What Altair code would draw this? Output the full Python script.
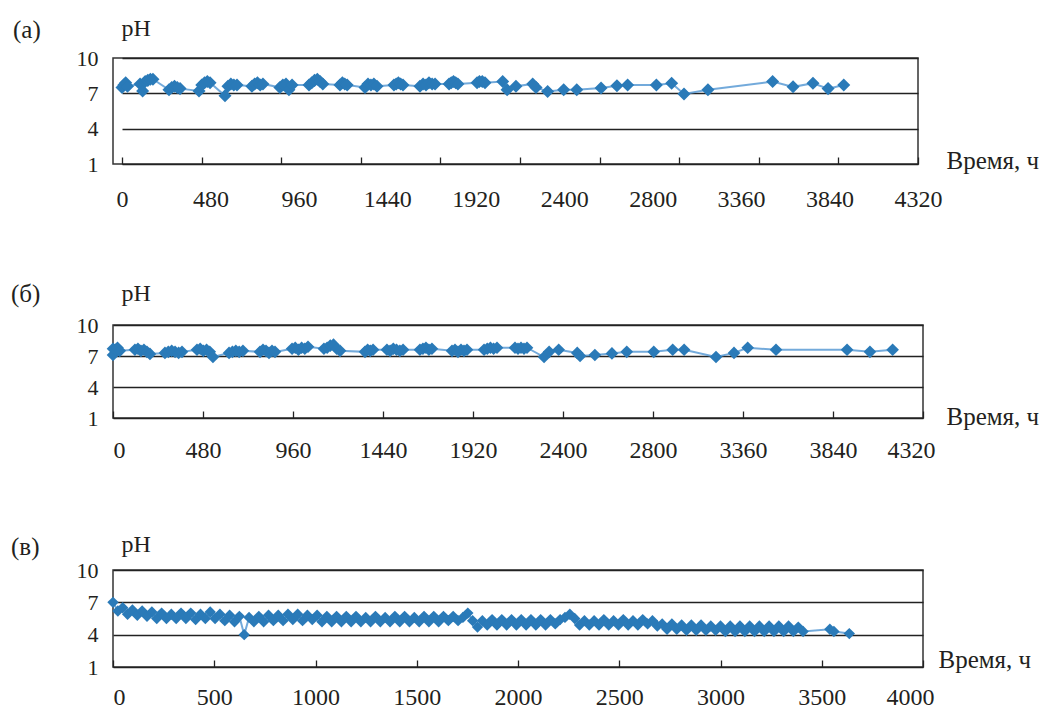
import altair as alt
import pandas as pd

# ---------------- data ----------------
# Panel (a)
t_a = [0, 10, 20, 30,
       98, 112, 126, 140, 154, 168,
       255, 270, 285, 300, 315,
       418, 433, 448, 463, 478,
       559, 575, 591, 607, 624,
       705, 720, 735, 750, 765,
       857, 873, 890, 906, 923,
       1015, 1030, 1045, 1060, 1075, 1090,
       1183, 1196, 1209, 1222,
       1319, 1335, 1351, 1367, 1384,
       1476, 1488, 1500, 1512, 1525,
       1617, 1634, 1650, 1666, 1683, 1699,
       1775, 1787, 1799, 1811, 1823,
       1927, 1940, 1955, 1970,
       2066, 2090, 2138, 2229, 2247, 2310, 2397, 2468, 2600, 2686,
       2744, 2900, 2983, 3050, 3180, 3531, 3642, 3750, 3832, 3917]
ph_a = [7.5, 7.7, 7.9, 7.6,
        7.8, 7.2, 8.0, 8.1, 8.2, 8.2,
        7.3, 7.5, 7.6, 7.5, 7.4,
        7.2, 7.7, 7.9, 8.0, 7.9,
        6.8, 7.6, 7.8, 7.7, 7.7,
        7.6, 7.8, 7.9, 7.7, 7.8,
        7.5, 7.7, 7.8, 7.3, 7.7,
        7.7, 7.9, 8.1, 8.2, 8.0, 7.8,
        7.7, 7.9, 7.8, 7.7,
        7.5, 7.8, 7.7, 7.8, 7.6,
        7.7, 7.8, 7.9, 7.8, 7.7,
        7.6, 7.8, 7.7, 7.9, 7.8, 7.8,
        7.8, 7.9, 8.0, 7.9, 7.8,
        7.9, 8.0, 8.0, 7.9,
        8.0, 7.3, 7.6, 7.8, 7.5, 7.15, 7.3, 7.3, 7.45, 7.65,
        7.7, 7.7, 7.85, 6.95, 7.3, 8.0, 7.55, 7.85, 7.4, 7.7]

# Panel (б)
t_b = [0, 0, 12, 24, 36,
       117, 133, 149, 165, 181, 197,
       277, 295, 313, 331, 350, 368,
       448, 465, 482, 499, 516, 533,
       619, 637, 655, 673, 693,
       784, 800, 816, 832, 848, 864,
       955, 972, 989, 1006, 1023, 1040,
       1125, 1142, 1159, 1176, 1193, 1211,
       1344, 1358, 1372, 1387,
       1461, 1478, 1495, 1512, 1530, 1547,
       1637, 1653, 1669, 1685, 1701,
       1808, 1824, 1840, 1856, 1872, 1888,
       1979, 1996, 2013, 2030, 2048,
       2144, 2160, 2176, 2192, 2208,
       2299, 2326, 2377, 2476, 2491, 2570, 2661, 2740, 2884, 2985,
       3046, 3216, 3312, 3385, 3536, 3915, 4037, 4158]
ph_b = [7.1, 7.7, 7.6, 7.8, 7.5,
        7.6, 7.7, 7.5, 7.6, 7.4, 7.2,
        7.3, 7.4, 7.5, 7.4, 7.3, 7.4,
        7.6, 7.7, 7.5, 7.6, 7.4, 6.9,
        7.3, 7.4, 7.5, 7.4, 7.5,
        7.4, 7.6, 7.5, 7.3, 7.5, 7.4,
        7.7, 7.8, 7.6, 7.8, 7.7, 7.9,
        7.7, 7.8, 8.0, 8.1, 7.7, 7.5,
        7.4, 7.6, 7.5, 7.6,
        7.6, 7.5, 7.7, 7.6, 7.5, 7.6,
        7.6, 7.7, 7.8, 7.6, 7.7,
        7.5, 7.6, 7.4, 7.6, 7.5, 7.6,
        7.6, 7.7, 7.8, 7.7, 7.8,
        7.8, 7.7, 7.8, 7.7, 7.8,
        6.9, 7.4, 7.6, 7.3, 7.0, 7.1, 7.25, 7.4, 7.4, 7.6,
        7.6, 6.9, 7.3, 7.8, 7.6, 7.6, 7.4, 7.6]

# Panel (в)
t_c = [0, 24, 48, 72, 96, 120, 144, 168, 192, 216,
       240, 264, 288, 312, 336, 360, 384, 408, 432, 456,
       480, 504, 528, 552, 576, 600, 624, 648, 672, 696,
       720, 744, 768, 792, 816, 840, 864, 888, 912, 936,
       960, 984, 1008, 1032, 1056, 1080, 1104, 1128, 1152, 1176,
       1200, 1224, 1248, 1272, 1296, 1320, 1344, 1368, 1392, 1416,
       1440, 1464, 1488, 1512, 1536, 1560, 1584, 1608, 1632, 1656,
       1680, 1704, 1728, 1752, 1776, 1800, 1824, 1848, 1872, 1896,
       1920, 1944, 1968, 1992, 2016, 2040, 2064, 2088, 2112, 2136,
       2160, 2184, 2208, 2232, 2256, 2280, 2304, 2328, 2352, 2376,
       2400, 2424, 2448, 2472, 2496, 2520, 2544, 2568, 2592, 2616,
       2640, 2664, 2688, 2712, 2736, 2760, 2784, 2808, 2832, 2856,
       2880, 2904, 2928, 2952, 2976, 3000, 3024, 3048, 3072, 3096,
       3120, 3144, 3168, 3192, 3216, 3240, 3264, 3288, 3312, 3336,
       3360, 3384, 3408, 3540, 3560, 3636]
ph_c = [7.0, 6.2, 6.5, 5.9, 6.3, 5.8, 6.2, 5.7, 6.1, 5.5,
        6.0, 5.5, 5.9, 5.5, 6.0, 5.5, 6.0, 5.4, 5.9, 5.5,
        6.1, 5.5, 5.9, 5.3, 5.8, 5.2, 5.7, 4.0, 5.6, 5.2,
        5.7, 5.2, 5.8, 5.3, 5.8, 5.3, 5.9, 5.4, 5.9, 5.3,
        5.8, 5.4, 5.8, 5.2, 5.7, 5.2, 5.7, 5.2, 5.7, 5.2,
        5.7, 5.2, 5.6, 5.2, 5.7, 5.2, 5.6, 5.2, 5.7, 5.2,
        5.7, 5.2, 5.6, 5.2, 5.7, 5.2, 5.7, 5.2, 5.7, 5.3,
        5.7, 5.3, 5.6, 6.0, 5.3, 4.7, 5.3, 4.9, 5.4, 4.9,
        5.4, 4.9, 5.4, 4.9, 5.4, 4.9, 5.4, 4.9, 5.4, 4.9,
        5.4, 5.0, 5.4, 5.6, 5.9, 5.5, 4.9, 5.3, 4.9, 5.3,
        4.9, 5.4, 4.9, 5.3, 4.9, 5.4, 4.9, 5.3, 4.9, 5.4,
        5.0, 5.3, 4.8, 5.0, 4.5, 5.0, 4.5, 4.9, 4.4, 4.9,
        4.4, 4.9, 4.4, 4.8, 4.4, 4.8, 4.3, 4.8, 4.3, 4.8,
        4.3, 4.8, 4.3, 4.8, 4.3, 4.8, 4.3, 4.8, 4.3, 4.8,
        4.3, 4.7, 4.3, 4.5, 4.3, 4.1]

panel_labels = ["(а)", "(б)", "(в)"]
x_title = "Время, ч"
y_title = "pH"
y_ticks = [1, 4, 7, 10]
y_range = [1, 10]
x_labels_ab = [0, 480, 960, 1440, 1920, 2400, 2880, 3360, 3840, 4320]
x_ticks_a = [0, 432, 864, 1296, 1728, 2160, 2592, 3024, 3456, 3888, 4320]
x_ticks_b = [0, 480, 960, 1440, 1920, 2400, 2880, 3360, 3840, 4320]
x_labels_c = [0, 500, 1000, 1500, 2000, 2500, 3000, 3500, 4000]

# ---------------- style ----------------
FONT = "Liberation Serif"
TXT = "#231f20"
MARK = "#2a7ab8"
LINE = "#5b9bd5"
GRID = "#222222"
FRAME = "#333333"


def panel(t, ph, label, xmax, lab_vals, tick_vals, width, height,
          lab_pad_x, label_x, label_y, ph_x, ph_y, tx, ty, size,
          align0, offset_last, expr, inset=0):
    df = pd.DataFrame({"t": t, "ph": ph})
    if inset:
        xscale = alt.Scale(domain=[0, xmax], nice=False, zero=False,
                           range=[inset, width])
    else:
        xscale = alt.Scale(domain=[0, xmax], nice=False, zero=False)
    yscale = alt.Scale(domain=y_range, nice=False, zero=False)
    yaxis = alt.Axis(values=y_ticks, grid=True, gridColor=GRID, gridWidth=1.3,
                     ticks=False, domain=False, labelFont=FONT, labelFontSize=22,
                     labelColor=TXT, labelPadding=15, labelOverlap=False,
                     labelFlush=False,
                     title=y_title, titleAngle=0, titleAlign="left",
                     titleBaseline="alphabetic", titleX=ph_x, titleY=ph_y,
                     titleFont=FONT, titleFontSize=24, titleFontWeight="normal",
                     titleColor=TXT)
    lab_kwargs = dict(values=lab_vals, format="d", ticks=False, domain=False,
                      orient="bottom",
                      grid=False, labelFont=FONT, labelFontSize=24, labelColor=TXT,
                      labelPadding=lab_pad_x, labelFlush=False, labelOverlap=False,
                      title=x_title, titleX=width + tx, titleY=ty,
                      titleAlign="left", titleBaseline="alphabetic",
                      titleFont=FONT, titleFontSize=25, titleFontWeight="normal",
                      titleColor=TXT)
    if expr:
        lab_kwargs["labelExpr"] = expr
    if align0:
        lab_kwargs["labelAlign"] = {"condition": {"test": "datum.value == 0", "value": "left"},
                                    "value": "center"}
    if offset_last:
        lab_kwargs["labelOffset"] = {"condition": {"test": f"datum.value == {xmax}",
                                                   "value": offset_last},
                                     "value": 0}
    xaxis_lab = alt.Axis(**lab_kwargs)
    xaxis_tick = alt.Axis(values=tick_vals, labels=False, domain=False, grid=False,
                          orient="bottom",
                          ticks=True, tickSize=7, tickColor=GRID, tickWidth=1.3,
                          offset=-7, title=None)
    base = alt.Chart(df)
    line = base.mark_line(color=LINE, strokeWidth=2, opacity=0.85).encode(
        x=alt.X("t:Q", scale=xscale, axis=xaxis_lab),
        y=alt.Y("ph:Q", scale=yscale, axis=yaxis),
    )
    pts = base.mark_point(shape="diamond", filled=True, size=size, color=MARK,
                          opacity=1, strokeWidth=0).encode(
        x=alt.X("t:Q", scale=xscale, axis=xaxis_tick),
        y=alt.Y("ph:Q", scale=yscale, axis=yaxis),
    )
    lab_df = pd.DataFrame({"lab": [label]})
    txt = alt.Chart(lab_df).mark_text(
        align="left", baseline="alphabetic", font=FONT, fontSize=25, color=TXT
    ).encode(text="lab:N", x=alt.value(label_x), y=alt.value(label_y))
    return alt.layer(line, pts, txt).resolve_axis(x="independent").properties(
        width=width, height=height)


expr_ab = "datum.value == 2880 ? '2800' : datum.label"
# panel (а): its time scale starts 9 px right of the common left origin
pa = panel(t_a, ph_a, panel_labels[0], 4320, x_labels_ab, x_ticks_a, 805, 106,
           23, -100, -20, 8, -23, 28, 4, 170, False, 0, expr_ab, inset=9)
pb = panel(t_b, ph_b, panel_labels[1], 4320, x_labels_ab, x_ticks_b, 810, 93,
           20, -102, -23, 8, -25, 23, 6, 160, True, -12, expr_ab)
pc = panel(t_c, ph_c, panel_labels[2], 4000, x_labels_c, x_labels_c, 810, 97,
           18, -102, -15, 8, -19, 15, 0, 130, True, -13, None)

chart = alt.vconcat(pa, pb, pc, spacing=68).configure_view(
    stroke=FRAME, strokeWidth=1.5
).properties(
    padding={"left": 10, "top": 15, "right": 0, "bottom": 0},
    background="white",
)

chart.save("out.html", embed_options={"renderer": "svg", "actions": False})
